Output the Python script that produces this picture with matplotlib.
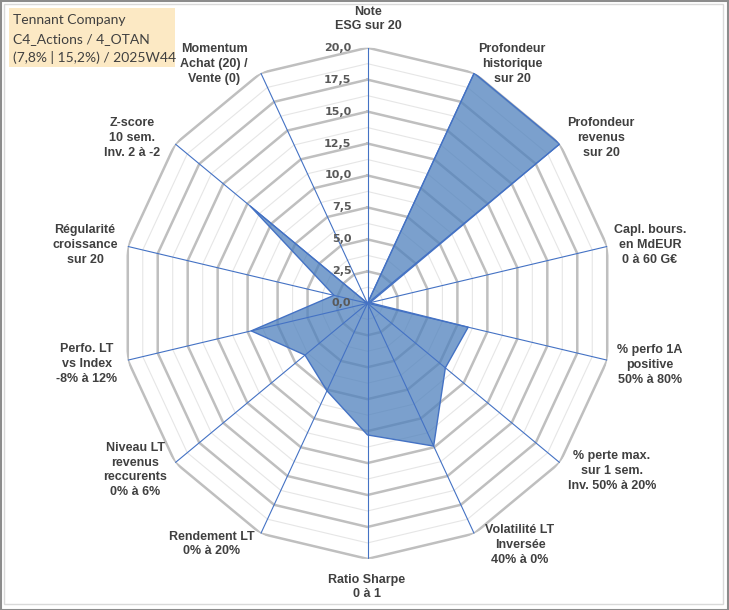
import numpy as np
import matplotlib
matplotlib.use("Agg")
import matplotlib.pyplot as plt
from matplotlib.patches import Rectangle

# Critères du radar (sens horaire depuis le haut)
categories = [
    "Note\nESG sur 20",
    "Profondeur\nhistorique\nsur 20",
    "Profondeur\nrevenus\nsur 20",
    "Capl. bours.\nen MdEUR\n0 à 60 G€",
    "% perfo 1A\npositive\n50% à 80%",
    "% perte max.\nsur 1 sem.\nInv. 50% à 20%",
    "Volatilité LT\nInversée\n40% à 0%",
    "Ratio Sharpe\n0 à 1",
    "Rendement LT\n0% à 20%",
    "Niveau LT\nrevenus\nreccurents\n0% à 6%",
    "Perfo. LT\nvs Index\n-8% à 12%",
    "Régularité\ncroissance\nsur 20",
    "Z-score\n10 sem.\nInv. 2 à -2",
    "Momentum\nAchat (20) /\nVente (0)",
]
scores = [0.0, 20.0, 20.0, 0.2, 8.4, 8.1, 12.4, 10.3, 7.6, 6.5, 9.7, 2.8, 12.2, 0.0]
ticks = [0.0, 2.5, 5.0, 7.5, 10.0, 12.5, 15.0, 17.5, 20.0]
title_lines = ["Tennant Company", "C4_Actions / 4_OTAN", "(7,8% | 15,2%) / 2025W44"]

# centres des libellés en pixels (image 729x610)
label_pos = [(368, 19), (512, 64), (601, 138), (650, 245), (650, 365), (612, 471),
             (520, 545), (367, 587), (212, 544), (135, 470), (87, 364), (85, 245),
             (132, 138), (214, 64)]

W, H = 729, 610
fig = plt.figure(figsize=(W / 100, H / 100), dpi=100)
fig.patch.set_facecolor("white")

# le graphique d'origine est légèrement écrasé horizontalement
cx, cy, Ry = 367.5, 303.3, 255.6
Rx = 245.9
ax = fig.add_axes([(cx - Rx) / W, 1 - (cy + Ry) / H, 2 * Rx / W, 2 * Ry / H], projection="polar")
ax.set_aspect("auto")
ax.set_theta_zero_location("N")
ax.set_theta_direction(-1)
ax.set_ylim(0, 20)
ax.axis("off")

n = len(categories)
theta = np.linspace(0, 2 * np.pi, n, endpoint=False)
theta_c = np.append(theta, theta[0])

# grille polygonale : mineure puis majeure
for r in np.arange(1.25, 20, 2.5):
    ax.plot(theta_c, [r] * (n + 1), color="#E6E6E6", lw=0.8, zorder=1)
for r in ticks[1:]:
    ax.plot(theta_c, [r] * (n + 1), color="#BFBFBF", lw=1.8, zorder=2)

# zone des scores
vals = np.append(scores, scores[0])
ax.fill(theta_c, vals, color="#4F81BD", alpha=0.75, lw=0, zorder=3)
ax.plot(theta_c, vals, color="#4472C4", lw=1.0, zorder=4)

# rayons
for t in theta:
    ax.plot([t, t], [0, 20], color="#4472C4", lw=0.8, zorder=5)

# graduations
for r in ticks:
    ax.annotate(f"{r:.1f}".replace(".", ","), xy=(0, r), xytext=(-16, 0),
                textcoords="offset pixels", ha="right", va="center",
                fontsize=8, fontweight="bold", color="#595959",
                family="DejaVu Sans", zorder=6)

# libellés des axes
for lab, (x, y) in zip(categories, label_pos):
    fig.text(x / W, 1 - y / H, lab, ha="center", va="center", fontsize=9,
             fontweight="bold", color="#404040", family="Liberation Sans",
             linespacing=1.3)

# cartouche titre
fig.patches.append(Rectangle((9 / W, 1 - 67 / H), 166 / W, 59 / H, transform=fig.transFigure,
                             facecolor="#FCE9C4", edgecolor="none", zorder=0))
for i, line in enumerate(title_lines):
    fig.text(13 / W, 1 - (20.5 + 18.3 * i) / H, line, ha="left", va="center",
             fontsize=10, color="#404040", family="Lato")

# cadres
fig.patches.append(Rectangle((3.5 / W, 1 - 603.5 / H), 719 / W, 600 / H, transform=fig.transFigure,
                             facecolor="none", edgecolor="#D9D9D9", lw=1))
fig.patches.append(Rectangle((0.5 / W, 0.5 / H), (W - 1.5) / W, (H - 1.5) / H, transform=fig.transFigure,
                             facecolor="none", edgecolor="#8C8C8C", lw=1.5))

fig.savefig("out.png", dpi=100)
